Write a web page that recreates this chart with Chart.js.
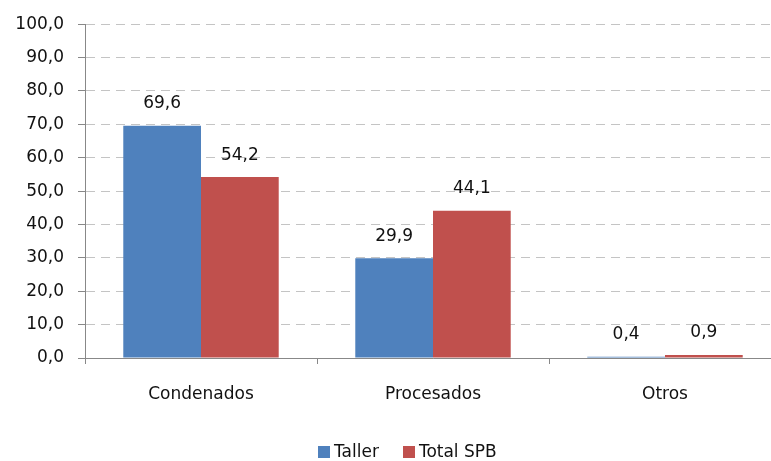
<!DOCTYPE html>
<html>
<head>
<meta charset="utf-8">
<script src="https://cdn.jsdelivr.net/npm/chart.js@4"></script>
<style>
  html, body { margin: 0; padding: 0; background: #fff; overflow: hidden; }
  #wrap { position: relative; width: 771px; height: 461px; overflow: hidden; }
  #legend { position: absolute; top: 441px; left: 318px; font: 17px "DejaVu Sans", sans-serif; color: #111; white-space: nowrap; }
  #legend span.box { display: inline-block; width: 12px; height: 12px; margin-right: 4px; vertical-align: -1px; }
</style>
</head>
<body>
<div id="wrap">
  <canvas id="chart" width="781" height="461"></canvas>
  <div id="legend"></div>
</div>
<script>
// DATA
const categories = ['Condenados', 'Procesados', 'Otros'];
const seriesNames = ['Taller', 'Total SPB'];
const taller = [69.6, 29.9, 0.4];
const totalSPB = [54.2, 44.1, 0.9];
const seriesColors = ['#4f81bd', '#c0504d'];

const FONT = '"DejaVu Sans", sans-serif';

function fmt(v) {
  return v.toFixed(1).replace('.', ',');
}

// draw values above each bar
const valueLabels = {
  id: 'valueLabels',
  afterDatasetsDraw(chart) {
    const ctx = chart.ctx;
    ctx.save();
    ctx.font = '17px ' + FONT;
    ctx.fillStyle = '#111';
    ctx.textAlign = 'center';
    ctx.textBaseline = 'middle';
    chart.data.datasets.forEach((ds, i) => {
      chart.getDatasetMeta(i).data.forEach((bar, j) => {
        ctx.fillText(fmt(ds.data[j]), bar.x, bar.y - 22);
      });
    });
    ctx.restore();
  }
};

const ctx = document.getElementById('chart').getContext('2d');
new Chart(ctx, {
  type: 'bar',
  data: {
    labels: categories,
    datasets: [
      { label: seriesNames[0], data: taller, backgroundColor: seriesColors[0] },
      { label: seriesNames[1], data: totalSPB, backgroundColor: seriesColors[1] }
    ]
  },
  options: {
    responsive: false,
    animation: false,
    categoryPercentage: 0.67,
    barPercentage: 1.0,
    layout: { padding: { top: 22, right: 0, bottom: 0, left: 0 } },
    plugins: {
      legend: { display: false },
      tooltip: { enabled: false }
    },
    scales: {
      y: {
        min: 0,
        max: 100,
        ticks: {
          stepSize: 10,
          padding: 14,
          color: '#111',
          font: { family: FONT, size: 17 },
          callback: v => fmt(v)
        },
        grid: {
          color: '#c4c4c4',
          tickLength: 7,
          tickColor: '#888',
          tickBorderDash: []
        },
        border: { color: '#888', dash: [9, 6] },
        afterFit: s => { s.width = 85; }
      },
      x: {
        ticks: {
          padding: 20,
          color: '#111',
          font: { family: FONT, size: 17 }
        },
        grid: {
          drawOnChartArea: false,
          offset: true,
          tickLength: 6,
          tickColor: '#888'
        },
        border: { color: '#888' },
        afterFit: s => { s.height = 103; }
      }
    }
  },
  plugins: [valueLabels]
});

// legend
const legend = document.getElementById('legend');
legend.innerHTML = seriesNames.map((n, i) =>
  '<span class="box" style="background:' + seriesColors[i] + '"></span>' + n
).join('<span style="display:inline-block;width:24px"></span>');
</script>
</body>
</html>
